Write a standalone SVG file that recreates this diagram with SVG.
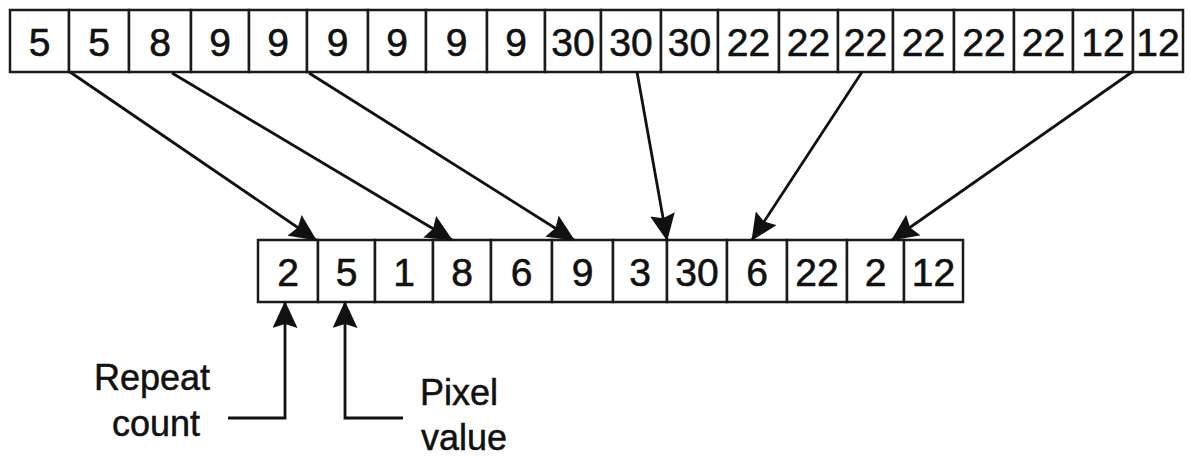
<svg xmlns="http://www.w3.org/2000/svg" width="1190" height="460" viewBox="0 0 1190 460">
  <style>
    .cell { fill: #ffffff; stroke: #1a1a1a; stroke-width: 2.5; }
    .num { font-family: "Liberation Sans", Arial, sans-serif; font-size: 39px; fill: #111111; text-anchor: middle; stroke: #111111; stroke-width: 0.6; }
    .lbl { font-family: "Liberation Sans", Arial, sans-serif; font-size: 36px; fill: #111111; stroke: #111111; stroke-width: 0.5; }
    .conn { fill: none; stroke: #111111; stroke-width: 2.8; }
  </style>
  <defs>
    <marker id="ah" viewBox="0 0 27 25" refX="26" refY="12.5" markerWidth="27" markerHeight="25" markerUnits="userSpaceOnUse" orient="auto">
      <path d="M0,0 L27,12.5 L0,25 L4,12.5 z" fill="#111111"/>
    </marker>
  </defs>
  <rect width="1190" height="460" fill="#ffffff"/>

  <g id="top-row">
    <g id="t1"><rect class="cell" x="10" y="10" width="59" height="62"/><text class="num" x="39.5" y="56">5</text></g>
    <g id="t2"><rect class="cell" x="69" y="10" width="60" height="62"/><text class="num" x="99" y="56">5</text></g>
    <g id="t3"><rect class="cell" x="129" y="10" width="62" height="62"/><text class="num" x="160" y="56">8</text></g>
    <g id="t4"><rect class="cell" x="191" y="10" width="58" height="62"/><text class="num" x="220" y="56">9</text></g>
    <g id="t5"><rect class="cell" x="249" y="10" width="58" height="62"/><text class="num" x="278" y="56">9</text></g>
    <g id="t6"><rect class="cell" x="307" y="10" width="61" height="62"/><text class="num" x="337.5" y="56">9</text></g>
    <g id="t7"><rect class="cell" x="368" y="10" width="58" height="62"/><text class="num" x="397" y="56">9</text></g>
    <g id="t8"><rect class="cell" x="426" y="10" width="61" height="62"/><text class="num" x="456.5" y="56">9</text></g>
    <g id="t9"><rect class="cell" x="487" y="10" width="58" height="62"/><text class="num" x="516" y="56">9</text></g>
    <g id="t10"><rect class="cell" x="545" y="10" width="56" height="62"/><text class="num" x="573" y="56">30</text></g>
    <g id="t11"><rect class="cell" x="601" y="10" width="60" height="62"/><text class="num" x="631" y="56">30</text></g>
    <g id="t12"><rect class="cell" x="661" y="10" width="57" height="62"/><text class="num" x="689.5" y="56">30</text></g>
    <g id="t13"><rect class="cell" x="718" y="10" width="61" height="62"/><text class="num" x="748.5" y="56">22</text></g>
    <g id="t14"><rect class="cell" x="779" y="10" width="59" height="62"/><text class="num" x="808.5" y="56">22</text></g>
    <g id="t15"><rect class="cell" x="838" y="10" width="55" height="62"/><text class="num" x="865.5" y="56">22</text></g>
    <g id="t16"><rect class="cell" x="893" y="10" width="61" height="62"/><text class="num" x="923.5" y="56">22</text></g>
    <g id="t17"><rect class="cell" x="954" y="10" width="60" height="62"/><text class="num" x="984" y="56">22</text></g>
    <g id="t18"><rect class="cell" x="1014" y="10" width="59" height="62"/><text class="num" x="1043.5" y="56">22</text></g>
    <g id="t19"><rect class="cell" x="1073" y="10" width="60" height="62"/><text class="num" x="1103" y="56">12</text></g>
    <g id="t20"><rect class="cell" x="1133" y="10" width="50" height="62"/><text class="num" x="1158" y="56">12</text></g>
  </g>

  <g id="bottom-row">
    <g id="b1"><rect class="cell" x="258" y="240" width="60" height="62"/><text class="num" x="288" y="286">2</text></g>
    <g id="b2"><rect class="cell" x="318" y="240" width="57" height="62"/><text class="num" x="346.5" y="286">5</text></g>
    <g id="b3"><rect class="cell" x="375" y="240" width="58" height="62"/><text class="num" x="404" y="286">1</text></g>
    <g id="b4"><rect class="cell" x="433" y="240" width="58" height="62"/><text class="num" x="462" y="286">8</text></g>
    <g id="b5"><rect class="cell" x="491" y="240" width="61" height="62"/><text class="num" x="521.5" y="286">6</text></g>
    <g id="b6"><rect class="cell" x="552" y="240" width="61" height="62"/><text class="num" x="582.5" y="286">9</text></g>
    <g id="b7"><rect class="cell" x="613" y="240" width="54" height="62"/><text class="num" x="640" y="286">3</text></g>
    <g id="b8"><rect class="cell" x="667" y="240" width="60" height="62"/><text class="num" x="697" y="286">30</text></g>
    <g id="b9"><rect class="cell" x="727" y="240" width="60" height="62"/><text class="num" x="757" y="286">6</text></g>
    <g id="b10"><rect class="cell" x="787" y="240" width="60" height="62"/><text class="num" x="817" y="286">22</text></g>
    <g id="b11"><rect class="cell" x="847" y="240" width="57" height="62"/><text class="num" x="875.5" y="286">2</text></g>
    <g id="b12"><rect class="cell" x="904" y="240" width="59" height="62"/><text class="num" x="933.5" y="286">12</text></g>
  </g>

  <g id="label-repeat">
    <text class="lbl" x="152" y="390" text-anchor="middle">Repeat</text>
    <text class="lbl" x="156" y="436" text-anchor="middle">count</text>
  </g>
  <g id="label-pixel">
    <text class="lbl" x="420" y="405">Pixel</text>
    <text class="lbl" x="421" y="450">value</text>
  </g>

  <g id="connectors">
    <line class="conn" x1="70" y1="72" x2="316" y2="240" marker-end="url(#ah)"/>
    <line class="conn" x1="172" y1="73" x2="452" y2="240" marker-end="url(#ah)"/>
    <line class="conn" x1="309" y1="73" x2="574" y2="240" marker-end="url(#ah)"/>
    <line class="conn" x1="637" y1="72" x2="667" y2="240" marker-end="url(#ah)"/>
    <line class="conn" x1="862" y1="72" x2="752" y2="240" marker-end="url(#ah)"/>
    <line class="conn" x1="1132" y1="72" x2="892" y2="240" marker-end="url(#ah)"/>
    <polyline class="conn" points="228,418 285,418 285,302" marker-end="url(#ah)"/>
    <polyline class="conn" points="403,418 345,418 345,302" marker-end="url(#ah)"/>
  </g>
</svg>
